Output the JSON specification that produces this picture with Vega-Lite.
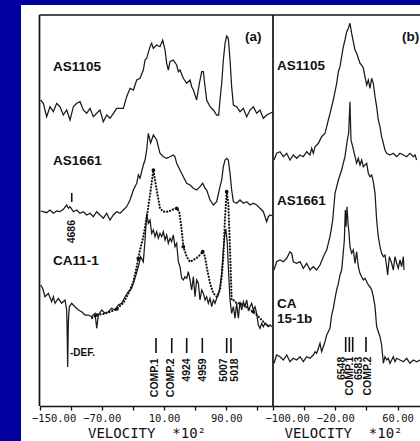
{
  "$schema": "https://vega.github.io/schema/vega-lite/v6.json",
  "width": 399,
  "height": 436,
  "autosize": {"type": "none"},
  "padding": {"left": 21, "top": 5, "right": 0, "bottom": 0},
  "background": "#0000a0",
  "config": {
    "view": {"fill": "white", "stroke": null},
    "text": {"font": "Liberation Sans", "fontWeight": "bold", "color": "#111"},
    "line": {"color": "#1a1a1a", "strokeWidth": 1.25},
    "rule": {"color": "#111"}
  },
  "datasets": {
    "specA": [
      {"s":"AS1105","v":-148.5,"y":306},{"s":"AS1105","v":-145.1,"y":302.7},{"s":"AS1105","v":-140.8,"y":289.3},{"s":"AS1105","v":-136.5,"y":299.3},{"s":"AS1105","v":-132.2,"y":294.3},{"s":"AS1105","v":-127.9,"y":302.7},{"s":"AS1105","v":-123.7,"y":299.3},{"s":"AS1105","v":-119.4,"y":291},{"s":"AS1105","v":-115.1,"y":296},{"s":"AS1105","v":-110.8,"y":286},{"s":"AS1105","v":-106.5,"y":299.3},{"s":"AS1105","v":-102.2,"y":302.7},{"s":"AS1105","v":-97.9,"y":304.3},{"s":"AS1105","v":-93.7,"y":296},{"s":"AS1105","v":-89.4,"y":292.7},{"s":"AS1105","v":-85.1,"y":297.7},{"s":"AS1105","v":-80.8,"y":289.3},{"s":"AS1105","v":-76.5,"y":292.7},{"s":"AS1105","v":-72.3,"y":296},{"s":"AS1105","v":-68,"y":284.3},{"s":"AS1105","v":-63.7,"y":291},{"s":"AS1105","v":-59.4,"y":287.7},{"s":"AS1105","v":-55.1,"y":292.7},{"s":"AS1105","v":-50.8,"y":297.7},{"s":"AS1105","v":-46.5,"y":297.7},{"s":"AS1105","v":-42.3,"y":297.7},{"s":"AS1105","v":-38,"y":309.3},{"s":"AS1105","v":-33.7,"y":317.7},{"s":"AS1105","v":-29.4,"y":316},{"s":"AS1105","v":-25.1,"y":326},{"s":"AS1105","v":-20.9,"y":327.7},{"s":"AS1105","v":-16.6,"y":336},{"s":"AS1105","v":-14.4,"y":346},{"s":"AS1105","v":-12.3,"y":347.7},{"s":"AS1105","v":-8,"y":359.3},{"s":"AS1105","v":-5.9,"y":362.7},{"s":"AS1105","v":-3.7,"y":357.7},{"s":"AS1105","v":0.6,"y":361},{"s":"AS1105","v":4.8,"y":359.3},{"s":"AS1105","v":8.3,"y":366},{"s":"AS1105","v":11.3,"y":356},{"s":"AS1105","v":13.4,"y":342.7},{"s":"AS1105","v":15.5,"y":336},{"s":"AS1105","v":17.7,"y":344.3},{"s":"AS1105","v":21.9,"y":346},{"s":"AS1105","v":26.2,"y":341},{"s":"AS1105","v":28.4,"y":334.3},{"s":"AS1105","v":30.5,"y":336},{"s":"AS1105","v":34.8,"y":327.7},{"s":"AS1105","v":39.1,"y":322.7},{"s":"AS1105","v":43.4,"y":326},{"s":"AS1105","v":45.5,"y":319.3},{"s":"AS1105","v":47.7,"y":316},{"s":"AS1105","v":51.9,"y":306},{"s":"AS1105","v":55.4,"y":322.7},{"s":"AS1105","v":58.4,"y":334.3},{"s":"AS1105","v":60.5,"y":334.3},{"s":"AS1105","v":62.7,"y":319.3},{"s":"AS1105","v":64.8,"y":306},{"s":"AS1105","v":69.1,"y":299.3},{"s":"AS1105","v":73.4,"y":296},{"s":"AS1105","v":77.6,"y":291},{"s":"AS1105","v":80.2,"y":291},{"s":"AS1105","v":81.9,"y":306},{"s":"AS1105","v":84.1,"y":322.7},{"s":"AS1105","v":86.2,"y":346},{"s":"AS1105","v":88.4,"y":362.7},{"s":"AS1105","v":90.5,"y":370},{"s":"AS1105","v":92.6,"y":367.7},{"s":"AS1105","v":94.8,"y":346},{"s":"AS1105","v":96.9,"y":319.3},{"s":"AS1105","v":99.1,"y":301},{"s":"AS1105","v":103.3,"y":299.3},{"s":"AS1105","v":107.6,"y":294.3},{"s":"AS1105","v":111.9,"y":297.7},{"s":"AS1105","v":116.2,"y":289.3},{"s":"AS1105","v":120.5,"y":296},{"s":"AS1105","v":124.8,"y":299.3},{"s":"AS1105","v":129,"y":292.7},{"s":"AS1105","v":133.3,"y":296},{"s":"AS1105","v":137.6,"y":287.7},{"s":"AS1105","v":141.9,"y":291},{"s":"AS1105","v":146.2,"y":292.7},{"s":"AS1105","v":150,"y":294},
      {"s":"AS1661","v":-148.5,"y":195},{"s":"AS1661","v":-145.1,"y":194.3},{"s":"AS1661","v":-140.8,"y":193.3},{"s":"AS1661","v":-136.5,"y":196},{"s":"AS1661","v":-132.2,"y":192.7},{"s":"AS1661","v":-127.9,"y":195},{"s":"AS1661","v":-123.7,"y":194.3},{"s":"AS1661","v":-119.4,"y":196.7},{"s":"AS1661","v":-115.1,"y":201},{"s":"AS1661","v":-112.9,"y":197.7},{"s":"AS1661","v":-110.8,"y":199.3},{"s":"AS1661","v":-106.5,"y":194.3},{"s":"AS1661","v":-102.2,"y":196},{"s":"AS1661","v":-97.9,"y":192.7},{"s":"AS1661","v":-93.7,"y":194.3},{"s":"AS1661","v":-89.4,"y":191},{"s":"AS1661","v":-85.1,"y":192.7},{"s":"AS1661","v":-80.8,"y":189.3},{"s":"AS1661","v":-76.5,"y":194.3},{"s":"AS1661","v":-72.3,"y":191},{"s":"AS1661","v":-68,"y":187.7},{"s":"AS1661","v":-63.7,"y":192.7},{"s":"AS1661","v":-59.4,"y":186},{"s":"AS1661","v":-55.1,"y":191},{"s":"AS1661","v":-50.8,"y":194.3},{"s":"AS1661","v":-46.5,"y":192.7},{"s":"AS1661","v":-42.3,"y":196},{"s":"AS1661","v":-38,"y":199.3},{"s":"AS1661","v":-33.7,"y":206},{"s":"AS1661","v":-29.4,"y":216},{"s":"AS1661","v":-25.1,"y":222.7},{"s":"AS1661","v":-23,"y":231},{"s":"AS1661","v":-20.9,"y":227.7},{"s":"AS1661","v":-16.6,"y":241},{"s":"AS1661","v":-14.4,"y":246},{"s":"AS1661","v":-12.3,"y":256},{"s":"AS1661","v":-10.2,"y":272.7},{"s":"AS1661","v":-7.2,"y":263},{"s":"AS1661","v":-3.7,"y":271},{"s":"AS1661","v":0.6,"y":266},{"s":"AS1661","v":4.8,"y":252.7},{"s":"AS1661","v":9.1,"y":249.3},{"s":"AS1661","v":13.4,"y":247.7},{"s":"AS1661","v":17.7,"y":249.3},{"s":"AS1661","v":21.9,"y":251},{"s":"AS1661","v":24.1,"y":249.3},{"s":"AS1661","v":26.2,"y":242.7},{"s":"AS1661","v":30.5,"y":236},{"s":"AS1661","v":34.8,"y":229.3},{"s":"AS1661","v":39.1,"y":222.7},{"s":"AS1661","v":43.4,"y":221},{"s":"AS1661","v":47.7,"y":217.7},{"s":"AS1661","v":51.9,"y":216},{"s":"AS1661","v":56.2,"y":219.3},{"s":"AS1661","v":59.7,"y":222.7},{"s":"AS1661","v":62.7,"y":217.7},{"s":"AS1661","v":64.8,"y":216},{"s":"AS1661","v":69.1,"y":206},{"s":"AS1661","v":73.4,"y":201},{"s":"AS1661","v":77.6,"y":204.3},{"s":"AS1661","v":81.9,"y":219.3},{"s":"AS1661","v":84.1,"y":226},{"s":"AS1661","v":86.2,"y":239.3},{"s":"AS1661","v":88.4,"y":246},{"s":"AS1661","v":90.5,"y":247.7},{"s":"AS1661","v":92.6,"y":246},{"s":"AS1661","v":94.8,"y":232.7},{"s":"AS1661","v":96.9,"y":216},{"s":"AS1661","v":99.1,"y":204.3},{"s":"AS1661","v":103.3,"y":202.7},{"s":"AS1661","v":107.6,"y":206},{"s":"AS1661","v":111.9,"y":202.7},{"s":"AS1661","v":116.2,"y":204.3},{"s":"AS1661","v":120.5,"y":201},{"s":"AS1661","v":124.8,"y":202.7},{"s":"AS1661","v":129,"y":201},{"s":"AS1661","v":133.3,"y":197.7},{"s":"AS1661","v":137.6,"y":194.3},{"s":"AS1661","v":141.9,"y":184.3},{"s":"AS1661","v":144,"y":189.3},{"s":"AS1661","v":146.2,"y":191},{"s":"AS1661","v":150,"y":190},
      {"s":"CA11-1","v":-148.5,"y":121},{"s":"CA11-1","v":-145.9,"y":117.7},{"s":"CA11-1","v":-142.9,"y":109.3},{"s":"CA11-1","v":-138.6,"y":112.7},{"s":"CA11-1","v":-134.4,"y":104.3},{"s":"CA11-1","v":-132.2,"y":109.3},{"s":"CA11-1","v":-130.1,"y":102.7},{"s":"CA11-1","v":-125.8,"y":107.7},{"s":"CA11-1","v":-121.5,"y":102.7},{"s":"CA11-1","v":-117.2,"y":106},{"s":"CA11-1","v":-115.1,"y":96},{"s":"CA11-1","v":-114.6,"y":80},{"s":"CA11-1","v":-113.8,"y":39},{"s":"CA11-1","v":-112.9,"y":85},{"s":"CA11-1","v":-111.7,"y":99.3},{"s":"CA11-1","v":-108.7,"y":102.7},{"s":"CA11-1","v":-104.4,"y":99.3},{"s":"CA11-1","v":-100.1,"y":96},{"s":"CA11-1","v":-95.8,"y":94.3},{"s":"CA11-1","v":-91.5,"y":91},{"s":"CA11-1","v":-87.3,"y":91},{"s":"CA11-1","v":-83,"y":89.3},{"s":"CA11-1","v":-78.7,"y":92.7},{"s":"CA11-1","v":-76.5,"y":77.7},{"s":"CA11-1","v":-74.4,"y":91},{"s":"CA11-1","v":-70.1,"y":96},{"s":"CA11-1","v":-65.8,"y":92.7},{"s":"CA11-1","v":-61.6,"y":94.3},{"s":"CA11-1","v":-57.3,"y":97.7},{"s":"CA11-1","v":-53,"y":96},{"s":"CA11-1","v":-48.7,"y":101},{"s":"CA11-1","v":-44.4,"y":102.7},{"s":"CA11-1","v":-40.1,"y":109.3},{"s":"CA11-1","v":-35.9,"y":114.3},{"s":"CA11-1","v":-31.6,"y":117.7},{"s":"CA11-1","v":-27.3,"y":127.7},{"s":"CA11-1","v":-23,"y":139.3},{"s":"CA11-1","v":-20,"y":149.3},{"s":"CA11-1","v":-16.6,"y":144.3},{"s":"CA11-1","v":-14.4,"y":166},{"s":"CA11-1","v":-12.3,"y":192.7},{"s":"CA11-1","v":-10.2,"y":182.7},{"s":"CA11-1","v":-8,"y":186},{"s":"CA11-1","v":-5.9,"y":172.7},{"s":"CA11-1","v":-3.7,"y":176},{"s":"CA11-1","v":-1.6,"y":169.3},{"s":"CA11-1","v":0.6,"y":174.3},{"s":"CA11-1","v":2.7,"y":167.7},{"s":"CA11-1","v":4.8,"y":172.7},{"s":"CA11-1","v":7,"y":169.3},{"s":"CA11-1","v":9.1,"y":174.3},{"s":"CA11-1","v":11.3,"y":166},{"s":"CA11-1","v":13.4,"y":171},{"s":"CA11-1","v":15.5,"y":162.7},{"s":"CA11-1","v":17.7,"y":167.7},{"s":"CA11-1","v":19.8,"y":164.3},{"s":"CA11-1","v":21.9,"y":171},{"s":"CA11-1","v":24.1,"y":159.3},{"s":"CA11-1","v":26.2,"y":162.7},{"s":"CA11-1","v":28.4,"y":144.3},{"s":"CA11-1","v":30.5,"y":139.3},{"s":"CA11-1","v":32.7,"y":127.7},{"s":"CA11-1","v":34.8,"y":126},{"s":"CA11-1","v":36.9,"y":129.3},{"s":"CA11-1","v":39.1,"y":127.7},{"s":"CA11-1","v":41.2,"y":134.3},{"s":"CA11-1","v":43.4,"y":126},{"s":"CA11-1","v":45.5,"y":116},{"s":"CA11-1","v":47.7,"y":129.3},{"s":"CA11-1","v":49.8,"y":109.3},{"s":"CA11-1","v":51.9,"y":126},{"s":"CA11-1","v":54.1,"y":122.7},{"s":"CA11-1","v":56.2,"y":106},{"s":"CA11-1","v":58.4,"y":116},{"s":"CA11-1","v":60.5,"y":112.7},{"s":"CA11-1","v":62.7,"y":106},{"s":"CA11-1","v":64.8,"y":109.3},{"s":"CA11-1","v":66.9,"y":102.7},{"s":"CA11-1","v":69.1,"y":107.7},{"s":"CA11-1","v":71.2,"y":99.3},{"s":"CA11-1","v":73.4,"y":106},{"s":"CA11-1","v":75.5,"y":102.7},{"s":"CA11-1","v":77.6,"y":107.7},{"s":"CA11-1","v":79.8,"y":111},{"s":"CA11-1","v":81.9,"y":119.3},{"s":"CA11-1","v":84.1,"y":132.7},{"s":"CA11-1","v":86.2,"y":156},{"s":"CA11-1","v":88.4,"y":174.3},{"s":"CA11-1","v":89.6,"y":176},{"s":"CA11-1","v":91.3,"y":162.7},{"s":"CA11-1","v":92.6,"y":139.3},{"s":"CA11-1","v":94.8,"y":106},{"s":"CA11-1","v":96.9,"y":92.7},{"s":"CA11-1","v":99.1,"y":99.3},{"s":"CA11-1","v":101.2,"y":87.7},{"s":"CA11-1","v":103.3,"y":102.7},{"s":"CA11-1","v":105.5,"y":87.7},{"s":"CA11-1","v":107.6,"y":104.3},{"s":"CA11-1","v":109.8,"y":96},{"s":"CA11-1","v":111.9,"y":104.3},{"s":"CA11-1","v":114,"y":99.3},{"s":"CA11-1","v":116.2,"y":106},{"s":"CA11-1","v":118.3,"y":96},{"s":"CA11-1","v":120.5,"y":99.3},{"s":"CA11-1","v":122.6,"y":102.7},{"s":"CA11-1","v":124.8,"y":96},{"s":"CA11-1","v":126.9,"y":99.3},{"s":"CA11-1","v":129,"y":92.7},{"s":"CA11-1","v":131.2,"y":81},{"s":"CA11-1","v":133.3,"y":77.7},{"s":"CA11-1","v":135.5,"y":82.7},{"s":"CA11-1","v":137.6,"y":79.3},{"s":"CA11-1","v":139.7,"y":82.7},{"s":"CA11-1","v":141.9,"y":81},{"s":"CA11-1","v":144,"y":79.3},{"s":"CA11-1","v":146.2,"y":81},{"s":"CA11-1","v":148.3,"y":79.3}
    ],
    "fitA": [
      {"v":-82.5,"y":88},{"v":-76.5,"y":91},{"v":-68.4,"y":92},{"v":-59.4,"y":94},{"v":-50.8,"y":97},{"v":-46.6,"y":100},{"v":-42.3,"y":103},{"v":-38,"y":109},{"v":-33.7,"y":116},{"v":-29.4,"y":124.3},{"v":-25.1,"y":139.3},{"v":-23,"y":147.7},{"v":-20.9,"y":156},{"v":-16.6,"y":169.3},{"v":-12.3,"y":188},{"v":-8,"y":211},{"v":-3.7,"y":236},{"v":0.6,"y":216},{"v":4.8,"y":197.7},{"v":9.1,"y":194.3},{"v":15.5,"y":194.3},{"v":21.9,"y":196.7},{"v":26.3,"y":197.7},{"v":29.6,"y":194.3},{"v":32.7,"y":176},{"v":34.8,"y":159.3},{"v":39.1,"y":149.3},{"v":43.4,"y":144.3},{"v":47.6,"y":146},{"v":54.1,"y":149.3},{"v":59.7,"y":154.3},{"v":62.6,"y":149.3},{"v":64.8,"y":139.3},{"v":69.1,"y":122.7},{"v":73.3,"y":112.7},{"v":77.7,"y":109.3},{"v":81.9,"y":116},{"v":84.1,"y":129.3},{"v":86.2,"y":149.3},{"v":88.4,"y":189.3},{"v":90.5,"y":214.3},{"v":92.6,"y":202.7},{"v":94.8,"y":156},{"v":96.9,"y":106},{"v":99,"y":106},{"v":103.4,"y":102.7},{"v":107.6,"y":102.7},{"v":111.9,"y":101},{"v":116.2,"y":99.3},{"v":120.5,"y":96},{"v":124.7,"y":94.3},{"v":129.1,"y":91},{"v":133.3,"y":87.7},{"v":137.6,"y":84.3},{"v":142,"y":81},{"v":146.2,"y":79.3}
    ],
    "knotsA": [
      {"v":-76.5,"y":91},{"v":-50.8,"y":97},{"v":-23,"y":147.7},{"v":-3.7,"y":236},{"v":26.3,"y":197.7},{"v":34.8,"y":159.3},{"v":59.7,"y":154.3},{"v":90.5,"y":214.3},{"v":124.7,"y":94.3}
    ],
    "frameA": [
      {"v":-150,"v2":-150,"y":0,"y2":391},
      {"v":150,"v2":150,"y":0,"y2":391},
      {"v":-150,"v2":150,"y":391,"y2":391}
    ],
    "barsA": [
      {"v":-108.6,"y":204,"y2":213},
      {"v":-0.3,"y":53,"y2":68},{"v":19.9,"y":53,"y2":68},{"v":39.1,"y":53,"y2":68},{"v":59.2,"y":53,"y2":68},{"v":90.5,"y":53,"y2":68},{"v":96,"y":53,"y2":68}
    ],
    "namesA": [
      {"t":"AS1105","v":-132.6,"y":335},{"t":"AS1661","v":-132.6,"y":241},{"t":"CA11-1","v":-132.6,"y":141},{"t":"(a)","v":114,"y":365}
    ],
    "notesA": [{"t":"-DEF.","v":-110.8,"y":50}],
    "linesA": [
      {"t":"4686","v":-108.6,"y":186},
      {"t":"COMP.1","v":-1.6,"y":47.7},{"t":"COMP.2","v":19,"y":47.7},{"t":"4924","v":39.1,"y":47.7},{"t":"4959","v":59.7,"y":47.7},{"t":"5007","v":87.5,"y":47.7},{"t":"5018","v":101.2,"y":47.7}
    ],
    "specB": [
      {"s":"AS1105","v":-98.7,"y":246},{"s":"AS1105","v":-95.3,"y":252.7},{"s":"AS1105","v":-91,"y":254.3},{"s":"AS1105","v":-86.7,"y":249.3},{"s":"AS1105","v":-82.4,"y":252.7},{"s":"AS1105","v":-78.2,"y":246},{"s":"AS1105","v":-73.9,"y":251},{"s":"AS1105","v":-69.6,"y":247.7},{"s":"AS1105","v":-65.3,"y":251},{"s":"AS1105","v":-61,"y":249.3},{"s":"AS1105","v":-56.7,"y":254.3},{"s":"AS1105","v":-52.5,"y":251},{"s":"AS1105","v":-50.3,"y":257.7},{"s":"AS1105","v":-48.2,"y":252.7},{"s":"AS1105","v":-46,"y":259.3},{"s":"AS1105","v":-41.7,"y":262.7},{"s":"AS1105","v":-37.5,"y":269.3},{"s":"AS1105","v":-33.2,"y":272.7},{"s":"AS1105","v":-31,"y":279.3},{"s":"AS1105","v":-28.9,"y":286},{"s":"AS1105","v":-26.7,"y":292.7},{"s":"AS1105","v":-24.6,"y":299.3},{"s":"AS1105","v":-22.5,"y":306},{"s":"AS1105","v":-20.3,"y":314.3},{"s":"AS1105","v":-18.2,"y":322.7},{"s":"AS1105","v":-16,"y":334.3},{"s":"AS1105","v":-13.9,"y":339.3},{"s":"AS1105","v":-11.8,"y":349.3},{"s":"AS1105","v":-9.6,"y":359.3},{"s":"AS1105","v":-7.5,"y":366},{"s":"AS1105","v":-5.3,"y":374.3},{"s":"AS1105","v":-3.2,"y":377.7},{"s":"AS1105","v":-1.1,"y":382.7},{"s":"AS1105","v":1.1,"y":372.7},{"s":"AS1105","v":3.2,"y":364.3},{"s":"AS1105","v":5.4,"y":356},{"s":"AS1105","v":7.5,"y":352.7},{"s":"AS1105","v":9.6,"y":347.7},{"s":"AS1105","v":11.8,"y":342.7},{"s":"AS1105","v":13.9,"y":341},{"s":"AS1105","v":16.1,"y":337.7},{"s":"AS1105","v":18.2,"y":329.3},{"s":"AS1105","v":20.4,"y":321},{"s":"AS1105","v":22.5,"y":326},{"s":"AS1105","v":24.6,"y":317.7},{"s":"AS1105","v":26.8,"y":327.7},{"s":"AS1105","v":28.9,"y":322.7},{"s":"AS1105","v":31.1,"y":309.3},{"s":"AS1105","v":33.2,"y":299.3},{"s":"AS1105","v":35.3,"y":286},{"s":"AS1105","v":37.5,"y":279.3},{"s":"AS1105","v":39.6,"y":269.3},{"s":"AS1105","v":41.8,"y":262.7},{"s":"AS1105","v":43.9,"y":256},{"s":"AS1105","v":46.1,"y":252.7},{"s":"AS1105","v":50.3,"y":251},{"s":"AS1105","v":54.6,"y":252.7},{"s":"AS1105","v":58.9,"y":249.3},{"s":"AS1105","v":63.2,"y":252.7},{"s":"AS1105","v":67.5,"y":251},{"s":"AS1105","v":71.8,"y":249.3},{"s":"AS1105","v":76,"y":252.7},{"s":"AS1105","v":80.3,"y":249.3},{"s":"AS1105","v":82.5,"y":251},{"s":"AS1105","v":84.6,"y":246},
      {"s":"AS1661","v":-98.7,"y":136},{"s":"AS1661","v":-95.3,"y":144.3},{"s":"AS1661","v":-91,"y":146},{"s":"AS1661","v":-86.7,"y":144.3},{"s":"AS1661","v":-82.4,"y":147.7},{"s":"AS1661","v":-78.2,"y":154.3},{"s":"AS1661","v":-76,"y":152.7},{"s":"AS1661","v":-73.9,"y":144.3},{"s":"AS1661","v":-69.6,"y":142.7},{"s":"AS1661","v":-65.3,"y":144.3},{"s":"AS1661","v":-61,"y":137.7},{"s":"AS1661","v":-56.7,"y":142.7},{"s":"AS1661","v":-52.5,"y":136},{"s":"AS1661","v":-48.2,"y":139.3},{"s":"AS1661","v":-43.9,"y":136},{"s":"AS1661","v":-39.6,"y":141},{"s":"AS1661","v":-35.3,"y":149.3},{"s":"AS1661","v":-33.2,"y":152.7},{"s":"AS1661","v":-31,"y":156},{"s":"AS1661","v":-28.9,"y":162.7},{"s":"AS1661","v":-26.8,"y":169.3},{"s":"AS1661","v":-24.6,"y":179.3},{"s":"AS1661","v":-23.3,"y":186},{"s":"AS1661","v":-20.3,"y":212.7},{"s":"AS1661","v":-16,"y":226},{"s":"AS1661","v":-11.8,"y":236},{"s":"AS1661","v":-7.5,"y":249.3},{"s":"AS1661","v":-4.5,"y":266},{"s":"AS1661","v":-2.8,"y":272.7},{"s":"AS1661","v":-1.1,"y":304.3},{"s":"AS1661","v":0.2,"y":266},{"s":"AS1661","v":2.4,"y":259.3},{"s":"AS1661","v":5.4,"y":249.3},{"s":"AS1661","v":7.5,"y":242.7},{"s":"AS1661","v":9.6,"y":247.7},{"s":"AS1661","v":11.8,"y":241},{"s":"AS1661","v":13.9,"y":246},{"s":"AS1661","v":16.1,"y":239.3},{"s":"AS1661","v":20.4,"y":242.7},{"s":"AS1661","v":22.5,"y":232.7},{"s":"AS1661","v":24.6,"y":229.3},{"s":"AS1661","v":26.8,"y":231},{"s":"AS1661","v":28.9,"y":224.3},{"s":"AS1661","v":31.1,"y":212.7},{"s":"AS1661","v":33.2,"y":186},{"s":"AS1661","v":35.3,"y":169.3},{"s":"AS1661","v":37.5,"y":159.3},{"s":"AS1661","v":39.6,"y":152.7},{"s":"AS1661","v":41.8,"y":149.3},{"s":"AS1661","v":43.9,"y":151},{"s":"AS1661","v":46.1,"y":139.3},{"s":"AS1661","v":47.3,"y":131},{"s":"AS1661","v":49.5,"y":149.3},{"s":"AS1661","v":52.5,"y":142.7},{"s":"AS1661","v":54.6,"y":136},{"s":"AS1661","v":56.8,"y":149.3},{"s":"AS1661","v":58.9,"y":142.7},{"s":"AS1661","v":61,"y":137.7},{"s":"AS1661","v":63.2,"y":146},{"s":"AS1661","v":65.3,"y":139.3},{"s":"AS1661","v":67.5,"y":149.3},{"s":"AS1661","v":68.3,"y":136},
      {"s":"CA 15-1b","v":-98.7,"y":42.7},{"s":"CA 15-1b","v":-95.3,"y":51},{"s":"CA 15-1b","v":-91,"y":49.3},{"s":"CA 15-1b","v":-86.7,"y":46},{"s":"CA 15-1b","v":-82.4,"y":51},{"s":"CA 15-1b","v":-78.2,"y":44.3},{"s":"CA 15-1b","v":-73.9,"y":47.7},{"s":"CA 15-1b","v":-69.6,"y":46},{"s":"CA 15-1b","v":-65.3,"y":49.3},{"s":"CA 15-1b","v":-61,"y":44.3},{"s":"CA 15-1b","v":-56.7,"y":49.3},{"s":"CA 15-1b","v":-52.5,"y":47.7},{"s":"CA 15-1b","v":-48.2,"y":51},{"s":"CA 15-1b","v":-46,"y":54.3},{"s":"CA 15-1b","v":-43.9,"y":52.7},{"s":"CA 15-1b","v":-41.7,"y":57.7},{"s":"CA 15-1b","v":-39.6,"y":62.7},{"s":"CA 15-1b","v":-37.5,"y":54.3},{"s":"CA 15-1b","v":-35.3,"y":59.3},{"s":"CA 15-1b","v":-33.2,"y":64.3},{"s":"CA 15-1b","v":-31,"y":71},{"s":"CA 15-1b","v":-28.9,"y":74.3},{"s":"CA 15-1b","v":-26.8,"y":77.7},{"s":"CA 15-1b","v":-24.6,"y":91},{"s":"CA 15-1b","v":-22.5,"y":97.7},{"s":"CA 15-1b","v":-20.3,"y":107.7},{"s":"CA 15-1b","v":-18.2,"y":116},{"s":"CA 15-1b","v":-16,"y":122.7},{"s":"CA 15-1b","v":-13.9,"y":131},{"s":"CA 15-1b","v":-11.8,"y":136},{"s":"CA 15-1b","v":-9.6,"y":154.3},{"s":"CA 15-1b","v":-8.3,"y":166},{"s":"CA 15-1b","v":-7.1,"y":196},{"s":"CA 15-1b","v":-6.2,"y":179.3},{"s":"CA 15-1b","v":-4.9,"y":199.3},{"s":"CA 15-1b","v":-3.6,"y":182.7},{"s":"CA 15-1b","v":-2.3,"y":172.7},{"s":"CA 15-1b","v":-1.1,"y":159.3},{"s":"CA 15-1b","v":1.1,"y":152.7},{"s":"CA 15-1b","v":3.2,"y":156},{"s":"CA 15-1b","v":5.4,"y":142.7},{"s":"CA 15-1b","v":7.5,"y":154.3},{"s":"CA 15-1b","v":9.6,"y":139.3},{"s":"CA 15-1b","v":11.8,"y":132.7},{"s":"CA 15-1b","v":13.9,"y":129.3},{"s":"CA 15-1b","v":16.1,"y":126},{"s":"CA 15-1b","v":18.2,"y":127.7},{"s":"CA 15-1b","v":20.4,"y":124.3},{"s":"CA 15-1b","v":22.5,"y":121},{"s":"CA 15-1b","v":24.6,"y":119.3},{"s":"CA 15-1b","v":26.8,"y":116},{"s":"CA 15-1b","v":28.9,"y":109.3},{"s":"CA 15-1b","v":31.1,"y":99.3},{"s":"CA 15-1b","v":33.2,"y":79.3},{"s":"CA 15-1b","v":35.3,"y":74.3},{"s":"CA 15-1b","v":37.5,"y":69.3},{"s":"CA 15-1b","v":39.6,"y":61},{"s":"CA 15-1b","v":41.8,"y":42.7},{"s":"CA 15-1b","v":43.9,"y":49.3},{"s":"CA 15-1b","v":46.1,"y":46},{"s":"CA 15-1b","v":48.2,"y":47.7},{"s":"CA 15-1b","v":50.3,"y":42.7},{"s":"CA 15-1b","v":52.5,"y":46},{"s":"CA 15-1b","v":54.6,"y":49.3},{"s":"CA 15-1b","v":56.8,"y":44.3},{"s":"CA 15-1b","v":58.9,"y":47.7},{"s":"CA 15-1b","v":63.2,"y":46},{"s":"CA 15-1b","v":67.5,"y":44.3},{"s":"CA 15-1b","v":71.8,"y":47.7},{"s":"CA 15-1b","v":76,"y":42.7},{"s":"CA 15-1b","v":80.3,"y":46},{"s":"CA 15-1b","v":84.6,"y":44.3},{"s":"CA 15-1b","v":88.9,"y":46}
    ],
    "frameB": [{"v":-100,"v2":88.9,"y":391,"y2":391}],
    "barsB": [
      {"v":-6.6,"y":54,"y2":69},{"v":-1.9,"y":54,"y2":69},{"v":2.4,"y":54,"y2":69},{"v":19.5,"y":54,"y2":69}
    ],
    "namesB": [
      {"t":"AS1105","v":-94.9,"y":336},{"t":"AS1661","v":-94.9,"y":201},{"t":"CA","v":-94.9,"y":98},{"t":"15-1b","v":-94.9,"y":83},{"t":"(b)","v":65.8,"y":365}
    ],
    "linesB": [
      {"t":"6548","v":-11.8,"y":49.3},{"t":"COMP.1","v":-1.1,"y":49.3},{"t":"6583","v":10.9,"y":49.3},{"t":"COMP.2","v":22.5,"y":49.3}
    ]
  },
  "layer": [
    {
      "layer": [
        {
          "data": {"name": "specA"},
          "mark": {"type": "line"},
          "encoding": {
            "x": {"field": "v", "type": "quantitative",
              "scale": {"domain": [-150, 150], "range": [18.5, 252], "nice": false, "zero": false},
              "axis": {
                "orient": "bottom", "offset": -35, "grid": false, "zindex": 1,
                "values": [-150, -110, -70, -30, 10, 50, 90, 130],
                "labelExpr": "indexof([-150, -70, 10, 90], datum.value) >= 0 ? format(datum.value, '.2f') : ''",
                "labelFont": "DejaVu Sans Mono", "labelFontSize": 10.5, "labelColor": "#111",
                "labelPadding": 3, "labelFlush": true, "labelFlushOffset": 8, "labelOverlap": false,
                "domainColor": "#111", "domainWidth": 1.7, "tickColor": "#111", "tickSize": 4, "tickWidth": 1.3,
                "title": "VELOCITY\u00a0\u00a0*10²", "titleFont": "DejaVu Sans Mono", "titleFontSize": 14,
                "titleFontWeight": "normal", "titleColor": "#111", "titlePadding": 3, "titleX": 125.5
              }},
            "y": {"field": "y", "type": "quantitative", "scale": {"domain": [-35, 401], "nice": false, "zero": false}, "axis": null},
            "detail": {"field": "s"}
          }
        },
        {
          "data": {"name": "fitA"},
          "mark": {"type": "line", "strokeDash": [0.1, 3], "strokeCap": "round", "strokeWidth": 2.2, "color": "#111"},
          "encoding": {
            "x": {"field": "v", "type": "quantitative", "scale": {"domain": [-150, 150], "range": [18.5, 252], "nice": false, "zero": false}},
            "y": {"field": "y", "type": "quantitative", "scale": {"domain": [-35, 401], "nice": false, "zero": false}, "axis": null}
          }
        },
        {
          "data": {"name": "knotsA"},
          "mark": {"type": "point", "filled": true, "size": 14, "color": "#111", "opacity": 1},
          "encoding": {
            "x": {"field": "v", "type": "quantitative", "scale": {"domain": [-150, 150], "range": [18.5, 252], "nice": false, "zero": false}},
            "y": {"field": "y", "type": "quantitative", "scale": {"domain": [-35, 401], "nice": false, "zero": false}, "axis": null}
          }
        },
        {
          "data": {"name": "frameA"},
          "mark": {"type": "rule", "strokeWidth": 1.7},
          "encoding": {
            "x": {"field": "v", "type": "quantitative", "scale": {"domain": [-150, 150], "range": [18.5, 252], "nice": false, "zero": false}},
            "x2": {"field": "v2"},
            "y": {"field": "y", "type": "quantitative", "scale": {"domain": [-35, 401], "nice": false, "zero": false}, "axis": null},
            "y2": {"field": "y2"}
          }
        },
        {
          "data": {"name": "barsA"},
          "mark": {"type": "rule", "strokeWidth": 1.6},
          "encoding": {
            "x": {"field": "v", "type": "quantitative", "scale": {"domain": [-150, 150], "range": [18.5, 252], "nice": false, "zero": false}},
            "y": {"field": "y", "type": "quantitative", "scale": {"domain": [-35, 401], "nice": false, "zero": false}, "axis": null},
            "y2": {"field": "y2"}
          }
        },
        {
          "data": {"name": "namesA"},
          "mark": {"type": "text", "align": "left", "baseline": "alphabetic", "fontSize": 13.5},
          "encoding": {
            "x": {"field": "v", "type": "quantitative", "scale": {"domain": [-150, 150], "range": [18.5, 252], "nice": false, "zero": false}},
            "y": {"field": "y", "type": "quantitative", "scale": {"domain": [-35, 401], "nice": false, "zero": false}, "axis": null},
            "text": {"field": "t"}
          }
        },
        {
          "data": {"name": "notesA"},
          "mark": {"type": "text", "align": "left", "baseline": "alphabetic", "fontSize": 10},
          "encoding": {
            "x": {"field": "v", "type": "quantitative", "scale": {"domain": [-150, 150], "range": [18.5, 252], "nice": false, "zero": false}},
            "y": {"field": "y", "type": "quantitative", "scale": {"domain": [-35, 401], "nice": false, "zero": false}, "axis": null},
            "text": {"field": "t"}
          }
        },
        {
          "data": {"name": "linesA"},
          "mark": {"type": "text", "angle": 270, "align": "right", "baseline": "middle", "fontSize": 10.5},
          "encoding": {
            "x": {"field": "v", "type": "quantitative", "scale": {"domain": [-150, 150], "range": [18.5, 252], "nice": false, "zero": false}},
            "y": {"field": "y", "type": "quantitative", "scale": {"domain": [-35, 401], "nice": false, "zero": false}, "axis": null},
            "text": {"field": "t"}
          }
        }
      ]
    },
    {
      "layer": [
        {
          "data": {"name": "specB"},
          "mark": {"type": "line"},
          "encoding": {
            "x": {"field": "v", "type": "quantitative",
              "scale": {"domain": [-100, 88.9], "range": [252, 399], "nice": false, "zero": false},
              "axis": {
                "orient": "bottom", "offset": -35, "grid": false, "zindex": 1,
                "values": [-100, -60, -20, 20, 60],
                "labelExpr": "indexof([-100, -20, 60], datum.value) >= 0 ? format(datum.value, '.2f') : ''",
                "labelFont": "DejaVu Sans Mono", "labelFontSize": 10.5, "labelColor": "#111",
                "labelPadding": 3, "labelFlush": true, "labelFlushOffset": 8, "labelOverlap": false,
                "domainColor": "#111", "domainWidth": 1.7, "tickColor": "#111", "tickSize": 4, "tickWidth": 1.3,
                "title": "VELOCITY\u00a0\u00a0*10²", "titleFont": "DejaVu Sans Mono", "titleFontSize": 14,
                "titleFontWeight": "normal", "titleColor": "#111", "titlePadding": 3, "titleX": 322
              }},
            "y": {"field": "y", "type": "quantitative", "scale": {"domain": [-35, 401], "nice": false, "zero": false}, "axis": null},
            "detail": {"field": "s"}
          }
        },
        {
          "data": {"name": "frameB"},
          "mark": {"type": "rule", "strokeWidth": 1.7},
          "encoding": {
            "x": {"field": "v", "type": "quantitative", "scale": {"domain": [-100, 88.9], "range": [252, 399], "nice": false, "zero": false}},
            "x2": {"field": "v2"},
            "y": {"field": "y", "type": "quantitative", "scale": {"domain": [-35, 401], "nice": false, "zero": false}, "axis": null},
            "y2": {"field": "y2"}
          }
        },
        {
          "data": {"name": "barsB"},
          "mark": {"type": "rule", "strokeWidth": 1.6},
          "encoding": {
            "x": {"field": "v", "type": "quantitative", "scale": {"domain": [-100, 88.9], "range": [252, 399], "nice": false, "zero": false}},
            "y": {"field": "y", "type": "quantitative", "scale": {"domain": [-35, 401], "nice": false, "zero": false}, "axis": null},
            "y2": {"field": "y2"}
          }
        },
        {
          "data": {"name": "namesB"},
          "mark": {"type": "text", "align": "left", "baseline": "alphabetic", "fontSize": 13.5},
          "encoding": {
            "x": {"field": "v", "type": "quantitative", "scale": {"domain": [-100, 88.9], "range": [252, 399], "nice": false, "zero": false}},
            "y": {"field": "y", "type": "quantitative", "scale": {"domain": [-35, 401], "nice": false, "zero": false}, "axis": null},
            "text": {"field": "t"}
          }
        },
        {
          "data": {"name": "linesB"},
          "mark": {"type": "text", "angle": 270, "align": "right", "baseline": "middle", "fontSize": 10.5},
          "encoding": {
            "x": {"field": "v", "type": "quantitative", "scale": {"domain": [-100, 88.9], "range": [252, 399], "nice": false, "zero": false}},
            "y": {"field": "y", "type": "quantitative", "scale": {"domain": [-35, 401], "nice": false, "zero": false}, "axis": null},
            "text": {"field": "t"}
          }
        }
      ]
    }
  ],
  "resolve": {"scale": {"x": "independent"}, "axis": {"x": "independent"}}
}
